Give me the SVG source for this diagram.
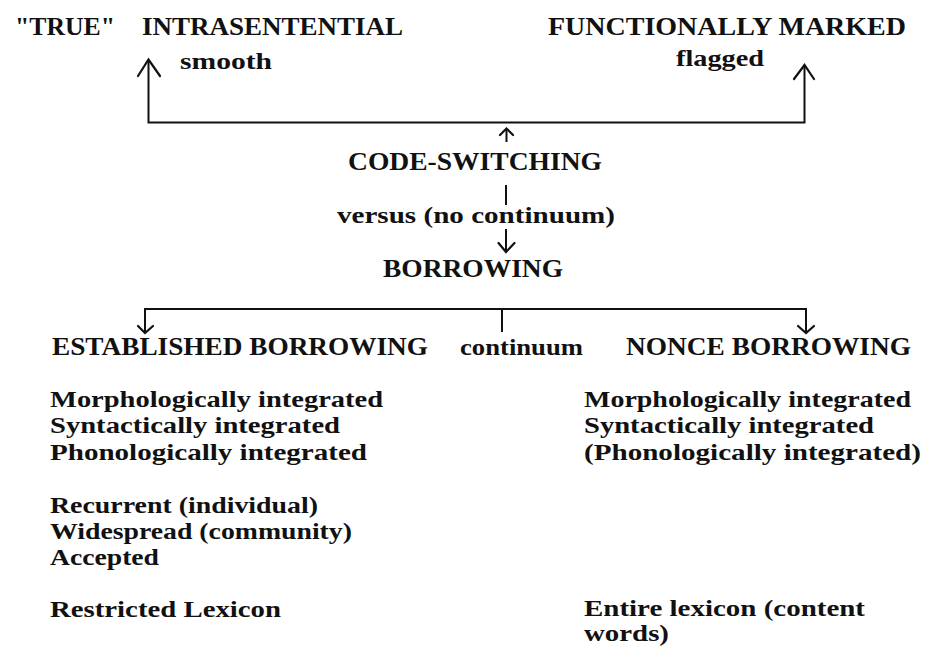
<svg xmlns="http://www.w3.org/2000/svg" width="926" height="648" viewBox="0 0 926 648">
  <style>
    text { font-family: "Liberation Serif", "Times New Roman", serif; font-weight: bold; fill: #111; }
    .head { font-size: 26px; }
    .sub { font-size: 24px; }
    .body { font-size: 23px; }
    .wire { fill: none; stroke: #111; stroke-width: 2; stroke-linecap: square; stroke-linejoin: miter; }
    .tip { fill: none; stroke: #111; stroke-width: 2.2; stroke-linecap: round; stroke-linejoin: miter; }
  </style>
  <rect width="926" height="648" fill="#fff"/>

  <g id="connectors">
    <!-- bracket from code-switching up to both kinds -->
    <path class="wire" d="M148.5 61 V122.5 H804.5 V67"/>
    <path class="tip" d="M138 76 L148.5 59.5 L160 76"/>
    <path class="tip" d="M794 79 L804.5 65 L814 79"/>
    <!-- small arrow under the bracket -->
    <path class="wire" d="M506.5 130 V141"/>
    <path class="tip" d="M500 135 L506.5 128.5 L513 135"/>
    <!-- code-switching versus borrowing -->
    <path class="wire" d="M506 186 V204"/>
    <path class="wire" d="M506 230 V250"/>
    <path class="tip" d="M498.5 243 L506 252 L514.5 243"/>
    <!-- borrowing split -->
    <path class="wire" d="M145 331 V309 H806 V331"/>
    <path class="wire" d="M502 309 V331"/>
    <path class="tip" d="M138 326 L145 333 L153 326"/>
    <path class="tip" d="M798 326 L806 333 L814 326"/>
  </g>

  <g id="intrasentential">
    <text class="head" x="15" y="35" textLength="100" lengthAdjust="spacingAndGlyphs">"TRUE"</text>
    <text class="head" x="142" y="35" textLength="261" lengthAdjust="spacingAndGlyphs">INTRASENTENTIAL</text>
    <text class="sub" x="180" y="69" textLength="92" lengthAdjust="spacingAndGlyphs">smooth</text>
  </g>

  <g id="functionally-marked">
    <text class="head" x="548" y="35" textLength="358" lengthAdjust="spacingAndGlyphs">FUNCTIONALLY MARKED</text>
    <text class="sub" x="676" y="66" textLength="88" lengthAdjust="spacingAndGlyphs">flagged</text>
  </g>

  <g id="code-switching">
    <text class="head" x="348" y="170" textLength="254" lengthAdjust="spacingAndGlyphs">CODE-SWITCHING</text>
  </g>

  <g id="versus">
    <text class="body" x="337" y="223" textLength="278" lengthAdjust="spacingAndGlyphs">versus (no continuum)</text>
  </g>

  <g id="borrowing">
    <text class="head" x="383" y="277" textLength="180" lengthAdjust="spacingAndGlyphs">BORROWING</text>
  </g>

  <g id="established-borrowing">
    <text class="head" x="52" y="355" textLength="376" lengthAdjust="spacingAndGlyphs">ESTABLISHED BORROWING</text>
    <text class="body" x="50" y="407" textLength="333" lengthAdjust="spacingAndGlyphs">Morphologically integrated</text>
    <text class="body" x="50" y="433" textLength="290" lengthAdjust="spacingAndGlyphs">Syntactically integrated</text>
    <text class="body" x="50" y="460" textLength="317" lengthAdjust="spacingAndGlyphs">Phonologically integrated</text>
    <text class="body" x="50" y="513" textLength="268" lengthAdjust="spacingAndGlyphs">Recurrent (individual)</text>
    <text class="body" x="50" y="539" textLength="302" lengthAdjust="spacingAndGlyphs">Widespread (community)</text>
    <text class="body" x="50" y="565" textLength="109" lengthAdjust="spacingAndGlyphs">Accepted</text>
    <text class="body" x="50" y="617" textLength="231" lengthAdjust="spacingAndGlyphs">Restricted Lexicon</text>
  </g>

  <g id="continuum">
    <text class="body" x="460" y="355" textLength="123" lengthAdjust="spacingAndGlyphs">continuum</text>
  </g>

  <g id="nonce-borrowing">
    <text class="head" x="626" y="355" textLength="285" lengthAdjust="spacingAndGlyphs">NONCE BORROWING</text>
    <text class="body" x="584" y="407" textLength="327" lengthAdjust="spacingAndGlyphs">Morphologically integrated</text>
    <text class="body" x="584" y="433" textLength="290" lengthAdjust="spacingAndGlyphs">Syntactically integrated</text>
    <text class="body" x="584" y="460" textLength="337" lengthAdjust="spacingAndGlyphs">(Phonologically integrated)</text>
    <text class="body" x="584" y="616" textLength="281" lengthAdjust="spacingAndGlyphs">Entire lexicon (content</text>
    <text class="body" x="584" y="641" textLength="85" lengthAdjust="spacingAndGlyphs">words)</text>
  </g>
</svg>
